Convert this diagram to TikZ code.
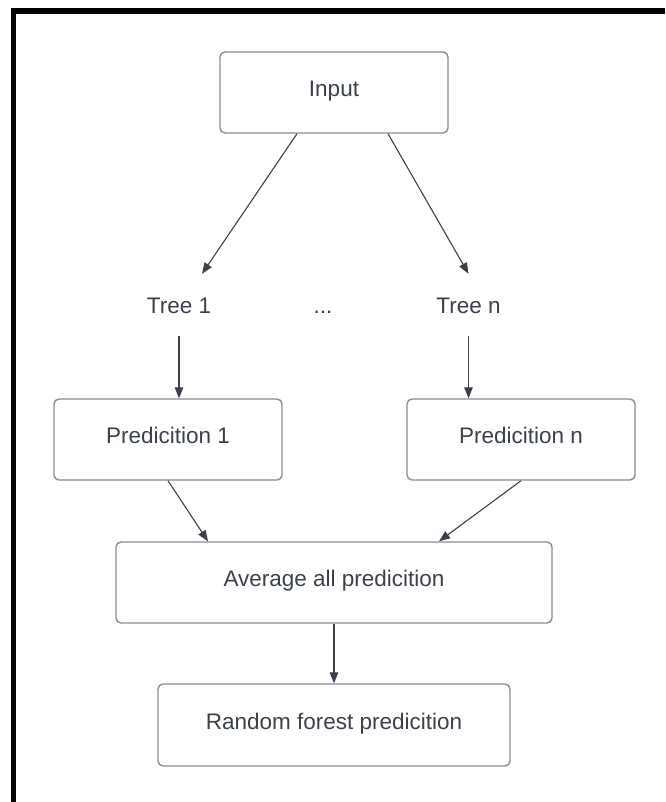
\documentclass[tikz,border=0pt]{standalone}
\usepackage{fontspec}
\setmainfont{Liberation Sans}
\usetikzlibrary{arrows.meta}
\definecolor{boxgray}{HTML}{8A8D92}
\definecolor{inkgray}{HTML}{3B414B}
\begin{document}
\begin{tikzpicture}[x=1pt, y=-1pt,
  box/.style={draw=boxgray, line width=1.4pt, rounded corners=5pt, fill=white,
    text=inkgray, font=\fontsize{22.5}{27}\selectfont, text height=16pt, text depth=8pt,
    inner sep=0pt, minimum height=81pt},
  lbl/.style={text=inkgray, font=\fontsize{22.5}{27}\selectfont, text height=16pt,
    text depth=0pt, inner sep=0pt, minimum height=62pt},
  arr/.style={draw=inkgray, line width=1.1pt, -{Triangle[length=11pt,width=8.5pt]}}]
\useasboundingbox (0,0) rectangle (665,802);
\fill[white] (0,0) rectangle (665,802);
\draw[line width=5.5pt, black] (13.5,802) -- (13.5,11) -- (665,11);
\node[box, minimum width=228pt] (inp) at (334,92.5){Input};
\node[lbl] (tree1) at (179,305){Tree 1};
\node[lbl] (dots) at (323,305){...};
\node[lbl] (treen) at (468.5,305){Tree n};
\draw[arr]([xshift=-37pt]inp.south) -- ([xshift=23pt]tree1.north);
\draw[arr]([xshift=54pt]inp.south) -- (treen.north);
\node[box, minimum width=228pt] (pred1) at (168,439.5){Predicition 1};
\node[box, minimum width=228pt] (predn) at (521,439.5){Predicition n};
\draw[arr](tree1.south) -- (tree1.south |- pred1.north);
\draw[arr](treen.south) -- (treen.south |- predn.north);
\node[box, minimum width=436pt] (avg) at (334,582.5){Average all predicition};
\draw[arr](pred1.south) -- ([xshift=-126pt]avg.north);
\draw[arr](predn.south) -- ([xshift=105pt]avg.north);
\node[box, minimum width=352pt, minimum height=82pt] (rf) at (334,725){Random forest predicition};
\draw[arr](avg.south) -- (rf.north);
\end{tikzpicture}
\end{document}
